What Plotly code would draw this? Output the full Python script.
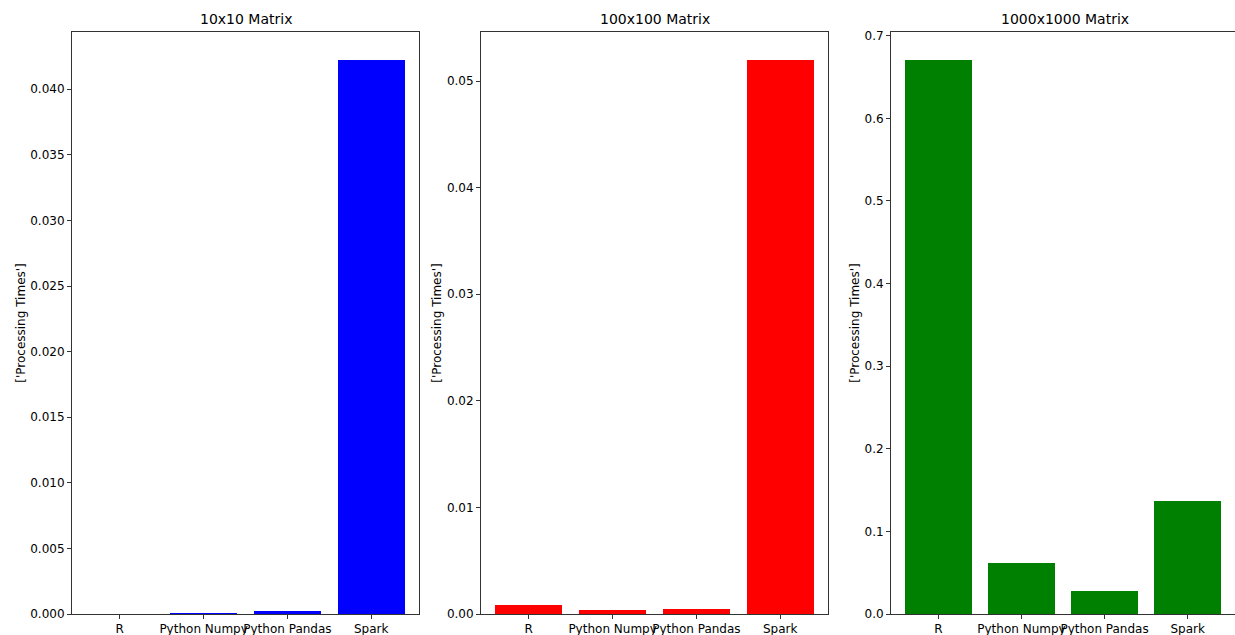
import plotly.graph_objects as go

categories = ["R", "Python Numpy", "Python Pandas", "Spark"]
titles = ["10x10 Matrix", "100x100 Matrix", "1000x1000 Matrix"]
times_10 = [0.0, 0.00006, 0.0002, 0.04225]
times_100 = [0.00084, 0.00042, 0.0005, 0.0520]
times_1000 = [0.671, 0.0617, 0.0278, 0.1366]
colors = ["#0000ff", "#ff0000", "#008000"]
ytick_vals = [
    [0, 0.005, 0.010, 0.015, 0.020, 0.025, 0.030, 0.035, 0.040],
    [0, 0.01, 0.02, 0.03, 0.04, 0.05],
    [0, 0.1, 0.2, 0.3, 0.4, 0.5, 0.6, 0.7],
]
ytick_text = [
    ["0.000", "0.005", "0.010", "0.015", "0.020", "0.025", "0.030", "0.035", "0.040"],
    ["0.00", "0.01", "0.02", "0.03", "0.04", "0.05"],
    ["0.0", "0.1", "0.2", "0.3", "0.4", "0.5", "0.6", "0.7"],
]
series = [times_10, times_100, times_1000]

W, H = 1235, 635
xdomains = [(72 / W, 419 / W), (481 / W, 828 / W), (891 / W, 1.0)]
ydomain = ((H - 614) / H, (H - 32) / H)

fig = go.Figure()
font = dict(family="DejaVu Sans", size=12, color="#000000")
xpos = list(range(len(categories)))

for i, vals in enumerate(series):
    sfx = "" if i == 0 else str(i + 1)
    fig.add_trace(go.Bar(
        x=xpos, y=vals, width=0.8, marker=dict(color=colors[i], line=dict(width=0)),
        xaxis="x" + sfx, yaxis="y" + sfx, showlegend=False,
    ))
    ymax = max(vals) * 1.05
    axis_line = dict(showline=True, linecolor="#333333", linewidth=1, ticks="outside",
                     ticklen=4, tickcolor="#333333", showgrid=False, zeroline=False,
                     tickfont=font, automargin=False)
    fig.layout["xaxis" + sfx] = dict(
        domain=xdomains[i], anchor="y" + sfx, range=[-0.57, 3.57], tickangle=0,
        tickvals=xpos, ticktext=categories, mirror=True, **axis_line)
    fig.layout["yaxis" + sfx] = dict(
        domain=ydomain, anchor="x" + sfx, range=[0, ymax],
        tickvals=ytick_vals[i], ticktext=ytick_text[i], mirror=(i < 2),
        title=dict(text="['Processing Times']", font=font, standoff=2), **axis_line)
    fig.add_annotation(
        text=titles[i], xref="paper", yref="paper",
        x=(xdomains[i][0] + (419 - 72) / W / 2) if i == 2 else (xdomains[i][0] + xdomains[i][1]) / 2,
        y=(H - 19) / H, xanchor="center", yanchor="middle", showarrow=False,
        font=dict(family="DejaVu Sans", size=14, color="#000000"))

fig.update_layout(
    width=W, height=H, margin=dict(l=0, r=0, t=0, b=0, autoexpand=False),
    plot_bgcolor="white", paper_bgcolor="white", bargap=0,
)
fig.write_html("out.html", config={"displayModeBar": False},
               post_script="document.body.style.margin='0';document.body.style.overflow='hidden';")
